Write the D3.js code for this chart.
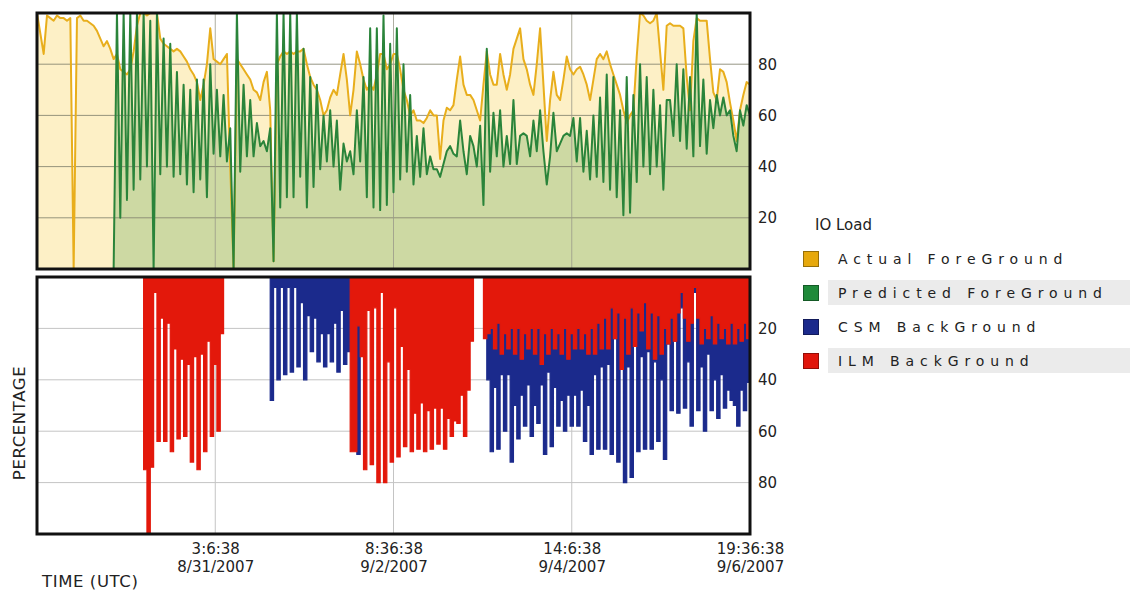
<!DOCTYPE html>
<html><head><meta charset="utf-8">
<script src="https://cdn.jsdelivr.net/npm/d3@7"></script>
<style>
body{margin:0;background:#fff;}
text{font-family:"DejaVu Sans",sans-serif;fill:#222;}
</style></head><body>
<svg id="chart" width="1130" height="591"></svg>
<script>
// hourly samples starting 8/28/2007 21:36:38 UTC
const START_UTC = Date.UTC(2007, 7, 28, 21, 36, 38);

const ACTUAL = [
100,92,84,99,98,97,99,98,98,97,
98,0,98,99,97,97,96,95,93,90,
87,89,86,82,84,78,77,76,78,85,
95,100,100,99,100,100,100,90,88,87,
86,85,86,85,83,81,78,76,73,66,
72,80,94,82,81,80,82,84,40,0,
82,80,78,76,74,70,69,66,73,77,
62,3,80,83,85,84,85,84,85,85,
86,80,75,72,70,66,60,62,67,70,
68,76,84,74,60,70,85,80,74,70,
72,70,76,84,84,78,80,84,84,78,
70,66,60,62,58,58,57,59,62,60,
60,43,58,63,62,64,74,83,72,68,
68,66,62,58,72,85,76,72,72,84,
76,70,76,86,90,94,82,78,72,68,
80,94,72,50,66,77,68,66,74,83,
78,76,78,79,76,72,66,74,82,84,
82,85,80,76,72,68,62,57,60,62,
83,100,99,97,96,97,100,85,70,95,
96,95,95,95,94,75,62,89,98,97,
97,97,82,69,66,78,77,73,65,58,
50,62,68,73,72];

const PREDICTED = [
0,0,0,0,0,0,0,0,0,0,
0,0,0,0,0,0,0,0,0,0,
0,0,0,0,100,20,100,27,100,31,
100,35,100,40,97,0,100,37,90,40,
88,36,77,37,72,33,70,30,74,35,
74,28,80,45,70,44,68,42,55,0,
100,38,72,44,66,44,57,48,50,46,
55,3,100,24,100,28,100,28,100,36,
86,24,75,32,72,39,60,42,62,40,
58,31,49,42,46,37,62,42,75,28,
94,24,94,23,99,25,88,30,94,35,
80,38,68,33,52,36,55,37,44,39,
39,36,41,46,48,45,44,58,46,37,
52,48,40,56,25,86,38,61,44,62,
40,52,41,66,41,52,53,52,44,58,
46,62,46,33,44,61,46,49,52,53,
52,59,42,59,38,54,35,60,36,67,
34,76,31,75,28,62,21,75,22,68,
34,80,40,75,37,70,40,64,31,66,
66,52,80,50,78,47,75,44,100,48,
74,45,66,55,68,60,67,60,62,52,
46,62,56,64,60];

const CSM = [
0,0,0,0,0,0,0,0,0,0,
0,0,0,0,0,0,0,0,0,0,
0,0,0,0,0,0,0,0,0,0,
0,0,0,0,0,0,0,0,0,0,
0,0,0,0,0,0,0,0,0,0,
0,0,0,0,0,0,0,0,0,0,
0,0,0,0,0,0,0,0,0,0,
48,4,40,4,38,4,37,4,35,10,
40,15,29,16,33,22,35,22,33,18,
37,13,34,29,0,0,69,0,0,0,
0,0,0,0,0,0,0,0,0,0,
0,0,0,0,0,0,0,0,0,0,
0,0,0,0,0,0,0,0,0,0,
0,0,0,0,0,40,68,43,67,38,
60,38,72,50,63,46,58,42,62,50,
57,42,69,37,66,43,58,48,60,46,
58,46,58,44,64,50,69,38,67,35,
67,34,69,24,72,36,80,35,78,27,
68,31,67,29,67,33,64,40,71,26,
52,25,53,12,51,33,58,6,52,35,
60,30,52,40,55,38,51,44,48,50,
58,44,52,41,50];

const ILM = [
0,0,0,0,0,0,0,0,0,0,
0,0,0,0,0,0,0,0,0,0,
0,0,0,0,0,0,0,0,0,0,
0,0,75,100,74,6,64,16,64,18,
68,28,63,32,62,34,72,31,75,30,
68,25,62,34,60,22,0,0,0,0,
0,0,0,0,0,0,0,0,0,0,
0,0,0,0,0,0,0,0,0,0,
0,0,0,0,0,0,0,0,0,0,
0,0,0,0,68,68,19,31,75,13,
73,12,80,6,80,33,72,12,70,27,
66,36,68,53,67,49,68,52,67,51,
65,51,67,55,62,56,57,46,62,44,
25,0,0,0,24,22,20,28,18,30,
22,28,20,30,20,32,22,28,20,30,
20,34,22,30,20,28,22,30,20,32,
22,28,20,28,22,30,20,30,18,28,
16,28,12,24,14,36,16,30,12,27,
14,21,10,28,14,32,15,30,20,26,
16,25,14,6,16,25,18,4,16,26,
20,24,15,26,18,24,20,26,18,26,
20,25,18,24,22];

const Y_TICKS = [20, 40, 60, 80];
const X_TICK_HOURS = [53.5, 107, 160.5, 214];
const X_TICK_TIMES = ["3:6:38", "8:36:38", "14:6:38", "19:36:38"];
const X_TICK_DATES = ["8/31/2007", "9/2/2007", "9/4/2007", "9/6/2007"];
const LEGEND_TITLE = "IO Load";
const LEGEND_NAMES = ["Actual ForeGround", "Predicted ForeGround", "CSM BackGround", "ILM BackGround"];
const LEGEND_COLORS = ["#e6a80c", "#1f8a3a", "#1b2a8c", "#e0160c"];

const svg = d3.select("#chart");
const L = 37, R = 750, T1 = 13, B1 = 269, T2 = 277, B2 = 534;
const hourMs = 3600e3;
const t = i => new Date(START_UTC + i * hourMs);

const x = d3.scaleUtc().domain([t(0), t(214)]).range([L, R]);
const yTop = d3.scaleLinear().domain([0, 100]).range([B1, T1]);
const yBot = d3.scaleLinear().domain([0, 100]).range([T2, B2]);
const tickDates = X_TICK_HOURS.map(h => t(h));

const defs = svg.append("defs");
defs.append("clipPath").attr("id", "c1").append("rect").attr("x", L).attr("y", T1).attr("width", R - L).attr("height", B1 - T1);
defs.append("clipPath").attr("id", "c2").append("rect").attr("x", L).attr("y", T2).attr("width", R - L).attr("height", B2 - T2);

// ---------- TOP PANEL ----------
const gTop = svg.append("g").attr("clip-path", "url(#c1)");
gTop.append("rect").attr("x", L).attr("y", T1).attr("width", R - L).attr("height", B1 - T1).attr("fill", "#fff");

const areaTop = d3.area().x((d, i) => x(t(i))).y0(yTop(0)).y1(d => yTop(d));
const lineTop = d3.line().x((d, i) => x(t(i))).y(d => yTop(d));

gTop.append("path").datum(ACTUAL).attr("d", areaTop).attr("fill", "#fdf0c6");
gTop.append("path").datum(PREDICTED).attr("d", areaTop).attr("fill", "#cdd9a3");

gTop.selectAll(".hg").data(Y_TICKS).join("line")
  .attr("x1", L).attr("x2", R).attr("y1", d => yTop(d)).attr("y2", d => yTop(d))
  .attr("stroke", "#858570").attr("stroke-width", 1).attr("opacity", 0.85);
gTop.selectAll(".vg").data(tickDates.slice(0, 3)).join("line")
  .attr("x1", d => x(d)).attr("x2", d => x(d)).attr("y1", T1).attr("y2", B1)
  .attr("stroke", "#9a9a8a").attr("stroke-width", 1).attr("opacity", 0.8);

gTop.append("path").datum(ACTUAL).attr("d", lineTop).attr("fill", "none")
  .attr("stroke", "#e8ae1c").attr("stroke-width", 2).attr("stroke-linejoin", "round");
gTop.append("path").datum(PREDICTED).attr("d", lineTop).attr("fill", "none")
  .attr("stroke", "#2a843a").attr("stroke-width", 2).attr("stroke-linejoin", "round");

// ---------- BOTTOM PANEL ----------
const gBot = svg.append("g").attr("clip-path", "url(#c2)");
gBot.append("rect").attr("x", L).attr("y", T2).attr("width", R - L).attr("height", B2 - T2).attr("fill", "#fff");
gBot.selectAll(".hg").data(Y_TICKS).join("line")
  .attr("x1", L).attr("x2", R).attr("y1", d => yBot(d)).attr("y2", d => yBot(d))
  .attr("stroke", "#c4c4c4").attr("stroke-width", 1);
gBot.selectAll(".vg").data(tickDates.slice(0, 3)).join("line")
  .attr("x1", d => x(d)).attr("x2", d => x(d)).attr("y1", T2).attr("y2", B2)
  .attr("stroke", "#c4c4c4").attr("stroke-width", 1);

const areaBot = d3.area().curve(d3.curveStepAfter).x((d, i) => x(t(i))).y0(yBot(0)).y1(d => yBot(d));
gBot.append("path").datum(CSM).attr("d", areaBot).attr("fill", "#1b2a8c").attr("stroke", "#1b2a8c").attr("stroke-width", 1.2);
gBot.append("path").datum(ILM).attr("d", areaBot).attr("fill", "#e3180b").attr("stroke", "#e3180b").attr("stroke-width", 1.2);

// frames
[[T1, B1], [T2, B2]].forEach(([a, b]) => {
  svg.append("rect").attr("x", L).attr("y", a).attr("width", R - L).attr("height", b - a)
    .attr("fill", "none").attr("stroke", "#111").attr("stroke-width", 3);
});

// ---------- AXES ----------
const yAxT = svg.append("g").attr("transform", `translate(${R},0)`)
  .call(d3.axisRight(yTop).tickValues(Y_TICKS).tickSize(0).tickPadding(8));
const yAxB = svg.append("g").attr("transform", `translate(${R},0)`)
  .call(d3.axisRight(yBot).tickValues(Y_TICKS).tickSize(0).tickPadding(8));
[yAxT, yAxB].forEach(g => {
  g.select(".domain").remove();
  g.selectAll("text").attr("font-size", 15).attr("font-family", "DejaVu Sans").attr("fill", "#222");
});

const xAx = svg.append("g").attr("transform", `translate(0,${B2})`)
  .call(d3.axisBottom(x).tickValues(tickDates).tickSize(0).tickPadding(9).tickFormat((d, i) => X_TICK_TIMES[i]));
xAx.select(".domain").remove();
xAx.selectAll("text").attr("font-size", 15).attr("font-family", "DejaVu Sans").attr("fill", "#222")
  .each(function (d, i) {
    const el = d3.select(this);
    el.text(null);
    el.append("tspan").attr("x", 0).text(X_TICK_TIMES[i]);
    el.append("tspan").attr("x", 0).attr("dy", "1.2em").text(X_TICK_DATES[i]);
  });

svg.append("text").attr("x", 42).attr("y", 587).attr("font-size", 16.5).attr("letter-spacing", "0.6px").text("TIME (UTC)");
svg.append("text").attr("transform", "translate(25,423) rotate(-90)").attr("text-anchor", "middle")
  .attr("font-size", 16.5).attr("letter-spacing", "0.6px").text("PERCENTAGE");

// ---------- LEGEND ----------
const lg = svg.append("g");
lg.append("text").attr("x", 815).attr("y", 230).attr("font-size", 15).text(LEGEND_TITLE);
LEGEND_NAMES.forEach((name, i) => {
  const cy = 259 + i * 34;
  if (i % 2 === 1) {
    lg.append("rect").attr("x", 828).attr("y", cy - 13).attr("width", 302).attr("height", 25).attr("fill", "#ebebeb");
  }
  lg.append("rect").attr("x", 803.5).attr("y", cy - 7.5).attr("width", 15).attr("height", 15)
    .attr("fill", LEGEND_COLORS[i]).attr("stroke", d3.color(LEGEND_COLORS[i]).darker(1.2)).attr("stroke-width", 1);
  lg.append("text").attr("x", 838).attr("y", cy + 5).attr("font-size", 14)
    .attr("letter-spacing", "5.9px").attr("fill", "#222").text(name);
});
</script>
</body></html>
